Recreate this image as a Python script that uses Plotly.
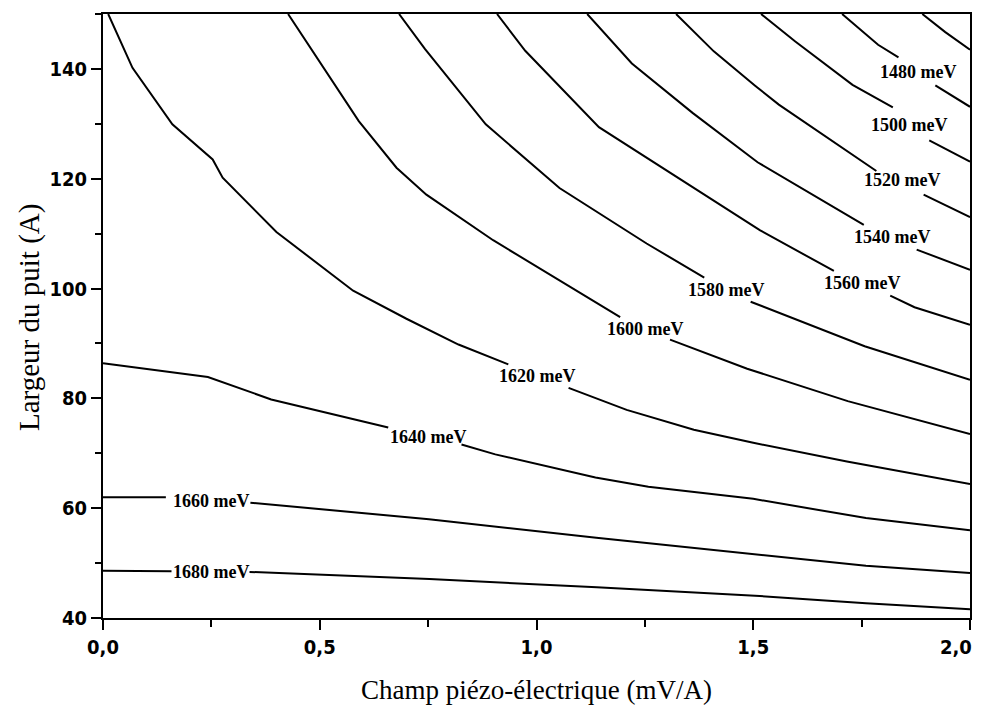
import plotly.graph_objects as go

# ---- contour data (x = champ piézo-électrique mV/A, y = largeur du puit A) ----
# None marks the gap left in each line for its label
x_1460 = [1.89, 1.943, 2.0]
y_1460 = [150, 146.7, 143.5]

x_1480 = [1.705, 1.788, 1.835, None, 1.92, 2.0]
y_1480 = [150, 144.4, 142.1, None, 137.0, 133.1]

x_1500 = [1.518, 1.597, 1.729, 1.822, None, 1.906, 2.0]
y_1500 = [150, 145.0, 137.1, 133.0, None, 127.0, 123.1]

x_1520 = [1.322, 1.409, 1.505, 1.559, 1.784, None, 1.893, 2.0]
y_1520 = [150, 143.2, 136.9, 133.5, 121.4, None, 117.1, 113.0]

x_1540 = [1.117, 1.22, 1.36, 1.51, 1.755, None, 1.877, 2.0]
y_1540 = [150, 141.0, 132.0, 123.0, 111.6, None, 107.1, 103.4]

x_1560 = [0.909, 0.974, 1.144, 1.369, 1.516, 1.686, None, 1.816, 1.872, 2.0]
y_1560 = [150, 143.3, 129.4, 118.0, 110.6, 103.2, None, 98.7, 96.6, 93.4]

x_1580 = [0.683, 0.743, 0.883, 1.053, 1.254, 1.387, None, 1.494, 1.757, 2.0]
y_1580 = [150, 143.6, 129.9, 118.3, 108.2, 102.0, None, 97.6, 89.5, 83.4]

x_1600 = [0.427, 0.506, 0.59, 0.677, 0.746, 0.90, 1.163, 1.193, None, 1.308, 1.486, 1.718, 2.0]
y_1600 = [150, 140.5, 130.5, 122.0, 117.1, 108.8, 96.1, 94.8, None, 90.7, 85.4, 79.5, 73.5]

x_1620 = [0.012, 0.068, 0.16, 0.253, 0.276, 0.40, 0.577, 0.70, 0.82, 0.935, None,
          1.074, 1.208, 1.363, 1.50, 1.716, 2.0]
y_1620 = [150, 140.2, 129.9, 123.5, 120.2, 110.3, 99.6, 94.5, 89.8, 86.2, None,
          81.9, 77.9, 74.3, 71.9, 68.5, 64.4]

x_1640 = [0, 0.242, 0.388, 0.658, None, 0.827, 0.905, 1.136, 1.258, 1.50, 1.76, 2.0]
y_1640 = [86.4, 83.9, 79.8, 74.7, None, 71.6, 69.8, 65.6, 63.9, 61.7, 58.2, 56.0]

x_1660 = [0, 0.145, None, 0.34, 0.752, 1.138, 1.49, 1.76, 2.0]
y_1660 = [62.0, 62.0, None, 61.0, 58.0, 54.6, 51.7, 49.5, 48.2]

x_1680 = [0, 0.158, None, 0.338, 0.753, 1.139, 1.515, 1.76, 2.0]
y_1680 = [48.6, 48.5, None, 48.4, 47.1, 45.6, 44.0, 42.7, 41.6]

# ---- contour labels ----
label_levels = [1480, 1500, 1520, 1540, 1560, 1580, 1600, 1620, 1640, 1660, 1680]
label_x = [1.88, 1.86, 1.842, 1.82, 1.75, 1.438, 1.25, 1.0, 0.75, 0.25, 0.25]
label_y = [139.4, 129.7, 119.7, 109.3, 101.0, 99.8, 92.6, 84.1, 73.0, 61.3, 48.3]

# ---- axis ticks ----
x_tickvals = [0, 0.5, 1.0, 1.5, 2.0]
x_ticktext = ["0,0", "0,5", "1,0", "1,5", "2,0"]
y_tickvals = [40, 60, 80, 100, 120, 140]
y_ticktext = ["40", "60", "80", "100", "120", "140"]

curves = [
    (x_1460, y_1460), (x_1480, y_1480), (x_1500, y_1500), (x_1520, y_1520),
    (x_1540, y_1540), (x_1560, y_1560), (x_1580, y_1580), (x_1600, y_1600),
    (x_1620, y_1620), (x_1640, y_1640), (x_1660, y_1660), (x_1680, y_1680),
]

fig = go.Figure()
for cx, cy in curves:
    fig.add_trace(go.Scatter(
        x=cx, y=cy, mode="lines", connectgaps=False,
        line=dict(color="black", width=2),
        showlegend=False, hoverinfo="skip",
    ))

serif = "Liberation Serif, Times New Roman, serif"
for lvl, lx, ly in zip(label_levels, label_x, label_y):
    fig.add_annotation(
        x=lx, y=ly, xref="x", yref="y", text=f"{lvl} meV", showarrow=False,
        font=dict(family=serif, size=18, color="black", weight="bold"),
    )

# axis titles
fig.add_annotation(
    x=0.5, y=-0.119, xref="paper", yref="paper", xanchor="center", yanchor="middle",
    text="Champ piézo-électrique (mV/A)", showarrow=False,
    font=dict(family=serif, size=27, color="black"),
)
fig.add_annotation(
    x=-0.084, y=0.497, xref="paper", yref="paper", xanchor="center", yanchor="middle",
    text="Largeur du puit (A)", showarrow=False, textangle=-90,
    font=dict(family=serif, size=29, color="black"),
)

tick_font = dict(family="Liberation Sans Narrow, DejaVu Sans Condensed, Arial Narrow, Arial, sans-serif",
                 size=20, color="black", weight="bold")

# the last x tick label sits at the right edge of the page: draw it right-aligned
# so that it is not clipped, and leave its slot on the axis empty
x_ticktext_axis = x_ticktext[:-1] + [""]
fig.add_annotation(
    x=1.0046, y=-0.048, xref="paper", yref="paper", xanchor="right", yanchor="middle",
    text=x_ticktext[-1], showarrow=False, font=tick_font,
)

# the page body adds an 8 px margin, so the figure is 8 px smaller on each side
fig.update_layout(
    width=975, height=697,
    margin=dict(l=95, r=13, t=6, b=87),
    paper_bgcolor="white", plot_bgcolor="white",
    showlegend=False,
)
fig.update_xaxes(
    range=[0, 2], tickvals=x_tickvals, ticktext=x_ticktext_axis, automargin=False,
    ticks="outside", ticklen=10, tickwidth=2, tickcolor="black",
    showline=True, linewidth=2, linecolor="black", mirror=True,
    showgrid=False, zeroline=False, tickfont=tick_font,
    minor=dict(ticks="outside", ticklen=7, tickwidth=2, tickcolor="black",
               dtick=0.25, tick0=0, showgrid=False),
)
fig.update_yaxes(
    range=[40, 150], tickvals=y_tickvals, ticktext=y_ticktext, automargin=False,
    ticks="outside", ticklen=10, tickwidth=2, tickcolor="black",
    showline=True, linewidth=2, linecolor="black", mirror=True,
    showgrid=False, zeroline=False, tickfont=tick_font,
    minor=dict(ticks="outside", ticklen=6, tickwidth=2, tickcolor="black",
               dtick=10, tick0=40, showgrid=False),
)

fig.write_html("out.html")
